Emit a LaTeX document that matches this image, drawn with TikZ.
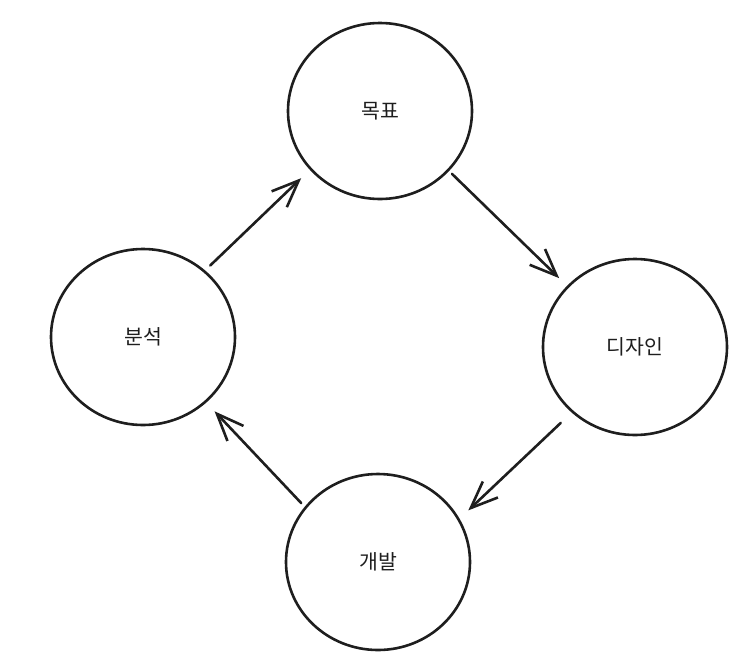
\documentclass[tikz,border=0pt]{standalone}
\usepackage{fontspec}
\newfontfamily\kr{Noto Sans CJK KR}
\usetikzlibrary{shapes.geometric, arrows.meta}
\definecolor{ink}{HTML}{1E1E1E}

\begin{document}
\begin{tikzpicture}[
        x=1pt, y=-1pt,
        stage/.style={ellipse, draw=ink, line width=2.6pt, minimum width=184pt, minimum height=176pt, inner sep=0pt, text=ink, font=\kr\fontsize{20.5}{24}\selectfont},
        flow/.style={ink, line width=2.6pt, line cap=round, -{Straight Barb[length=27pt, width=22pt]}}
    ]
        \useasboundingbox (0, 0) rectangle (747, 670);

        \node[stage] (goal) at (380, 111) {목표};
        \node[stage] (design) at (635, 347) {디자인};
        \node[stage] (build) at (378, 562) {개발};
        \node[stage] (analysis) at (143, 337) {분석};

        \draw[flow, shorten <=7pt, shorten >=12pt] (analysis.47) -- (goal.220);
        \draw[flow, shorten <=4pt, shorten >=11pt] (goal.319) -- (design.138);
        \draw[flow, shorten <=15pt, shorten >=12pt] (design.226) -- (build.28);
        \draw[flow, shorten <=5pt, shorten >=12pt] (build.143) -- (analysis.314);
    \end{tikzpicture}
\end{document}
